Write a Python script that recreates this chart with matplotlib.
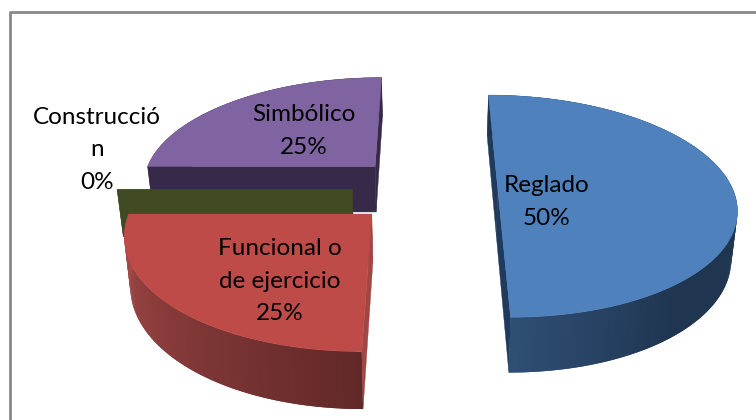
import numpy as np
import matplotlib
matplotlib.use('Agg')
import matplotlib.pyplot as plt
from matplotlib.colors import to_rgb
from matplotlib.patches import Polygon

# Data
labels = ['Reglado', 'Funcional o\nde ejercicio', 'Construcció\nn', 'Simbólico']
values = [50, 25, 0, 25]

# Colours: top face, cut wall, rim at start of slice, rim at end of slice
top_colors = ['#4f81bd', '#be4b48', '#9bbb59', '#8064a2']
wall_colors = ['#1f3a5c', '#a04644', '#404a23', '#372a48']
rim_start = ['#1f3550', '#622828', '#404a23', '#372a48']
rim_end = ['#2f4f75', '#a84c4a', '#404a23', '#372a48']

# Label centres in pixels
label_pos = [(547, 202), (280, 281), (97, 150), (304, 131)]

# Projection of the pie plane onto the picture
xv, yb = 425.7, 189.5   # vanishing x, screen y of the plane's V=0
R, A = 235.0, 108.6     # radius and squashed radius
p = 0.15                # perspective
height = 47.0
shrink = 0.02
explode = 0.31
cx0 = -0.7


def project(x, v):
    w = 1 + p * v
    return xv + (R * x + cx0) / w, yb - A * v / w


def drop(sx, sy, v):
    w = 1 + p * v
    return sx - (sx - xv) * shrink, sy + height / w


def mix(c1, c2, f):
    a, b = np.array(to_rgb(c1)), np.array(to_rgb(c2))
    return tuple(a + (b - a) * f)


fig = plt.figure(figsize=(7.56, 4.2), dpi=100)
ax = fig.add_axes([0, 0, 1, 1])
ax.set_xlim(0, 756)
ax.set_ylim(420, 0)
ax.axis('off')
plt.rcParams['font.family'] = ['Lato', 'DejaVu Sans']

# Frame, only left and top show in the crop
ax.plot([9.5, 9.5, 756], [420, 12, 12], color='#898989', lw=2, zorder=0)

# Angles clockwise from the top
total = sum(values)
start = 90.0
slices = []
for i, val in enumerate(values):
    sweep = 360.0 * val / total
    slices.append((i, start, start - sweep))
    start -= sweep

# Back to front
for z, i in enumerate([3, 2, 1, 0]):
    _, a0, a1 = slices[i]
    mid = np.radians((a0 + a1) / 2)
    ox, ov = explode * np.cos(mid), explode * np.sin(mid)
    t = np.radians(np.linspace(a0, a1, max(2, int(abs(a1 - a0)) + 1)))
    rx, rv = ox + np.cos(t), ov + np.sin(t)
    top_x, top_y = project(rx, rv)
    bot_x, bot_y = drop(top_x, top_y, rv)
    cx, cy = project(ox, ov)
    cbx, cby = drop(cx, cy, ov)
    zo = 2 + z

    # cut walls at both ends of the slice
    for j in (0, -1):
        ax.add_patch(Polygon([(cx, cy), (top_x[j], top_y[j]), (bot_x[j], bot_y[j]), (cbx, cby)],
                             fc=wall_colors[i], ec=wall_colors[i], lw=0.3, zorder=zo))

    # rim, shaded along the arc; each quad overlaps the next to hide seams
    n = len(t) - 1
    for k in range(n):
        if i == 0:
            # blue rim: light only near the slice's lower tip
            col = mix(rim_end[i], rim_start[i], min(1, (n - k) / n / 0.22))
        else:
            col = mix(rim_start[i], rim_end[i], k / max(n - 1, 1))
        e = min(k + 2, n)
        ax.add_patch(Polygon([(top_x[k], top_y[k]), (top_x[e], top_y[e]),
                              (bot_x[e], bot_y[e]), (bot_x[k], bot_y[k])],
                             fc=col, ec='none', lw=0, zorder=zo))

    # top face
    if abs(a1 - a0) > 0:
        ax.add_patch(Polygon([(cx, cy)] + list(zip(top_x, top_y)), fc=top_colors[i],
                             ec=top_colors[i], lw=0.3, zorder=zo))

# Labels
for lab, val, (lx, ly) in zip(labels, values, label_pos):
    ax.text(lx, ly, f'{lab}\n{val}%', ha='center', va='center', fontsize=17.5,
            linespacing=1.65, color='black', zorder=10)

fig.savefig('out.png', dpi=100)
